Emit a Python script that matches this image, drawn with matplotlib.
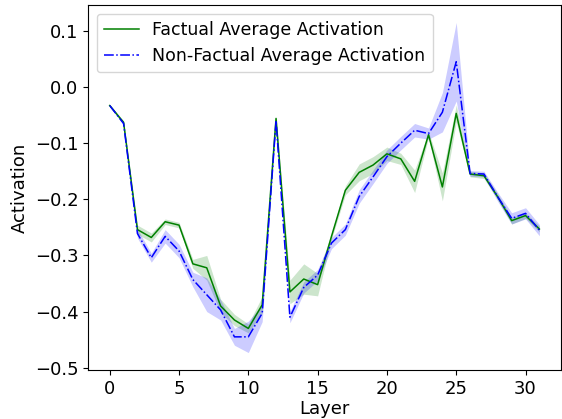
import numpy as np
import matplotlib
matplotlib.use("Agg")
import matplotlib.pyplot as plt

# layers 0..31
layers = np.arange(32)

# mean activation, factual prompts
factual_mean = [-0.033, -0.063, -0.254, -0.268, -0.240, -0.246, -0.315, -0.322,
                -0.390, -0.415, -0.430, -0.388, -0.056, -0.365, -0.342, -0.352,
                -0.266, -0.184, -0.152, -0.139, -0.119, -0.128, -0.168, -0.085,
                -0.178, -0.047, -0.155, -0.158, -0.196, -0.238, -0.229, -0.253]
factual_spread = [0.002, 0.003, 0.008, 0.008, 0.005, 0.005, 0.008, 0.022,
                  0.012, 0.010, 0.008, 0.015, 0.003, 0.021, 0.027, 0.020,
                  0.005, 0.008, 0.015, 0.015, 0.012, 0.010, 0.020, 0.005,
                  0.025, 0.015, 0.005, 0.005, 0.005, 0.006, 0.005, 0.005]

# mean activation, non-factual prompts
nonfactual_mean = [-0.033, -0.065, -0.261, -0.304, -0.266, -0.292, -0.343, -0.370,
                   -0.397, -0.445, -0.445, -0.403, -0.060, -0.410, -0.357, -0.335,
                   -0.278, -0.254, -0.195, -0.160, -0.124, -0.100, -0.077, -0.083,
                   -0.045, 0.045, -0.154, -0.155, -0.196, -0.234, -0.225, -0.255]
nonfactual_spread = [0.002, 0.003, 0.008, 0.008, 0.012, 0.012, 0.013, 0.030,
                     0.018, 0.015, 0.028, 0.015, 0.003, 0.010, 0.010, 0.010,
                     0.010, 0.010, 0.012, 0.012, 0.012, 0.012, 0.012, 0.010,
                     0.035, 0.070, 0.005, 0.005, 0.008, 0.010, 0.010, 0.010]

fm = np.array(factual_mean)
fs = np.array(factual_spread)
nm = np.array(nonfactual_mean)
ns = np.array(nonfactual_spread)

plt.rcParams['font.size'] = 13

fig, ax = plt.subplots(figsize=(5.62, 4.19), dpi=100)
fig.subplots_adjust(left=0.157, right=0.998, bottom=0.117, top=0.988)

ax.plot(layers, fm, color='green', linewidth=1.1, label='Factual Average Activation')
ax.fill_between(layers, fm - fs, fm + fs, color='green', alpha=0.2, linewidth=0)
ax.plot(layers, nm, color='blue', linestyle='-.', linewidth=1.1,
        label='Non-Factual Average Activation')
ax.fill_between(layers, nm - ns, nm + ns, color='blue', alpha=0.2, linewidth=0)

ax.set_ylim(-0.504, 0.146)
ax.set_xlabel('Layer', labelpad=2)
ax.set_ylabel('Activation')
ax.set_xticks([0, 5, 10, 15, 20, 25, 30])
ax.legend(loc='upper left', fontsize=12.5)

plt.savefig('out.png', dpi=100)
